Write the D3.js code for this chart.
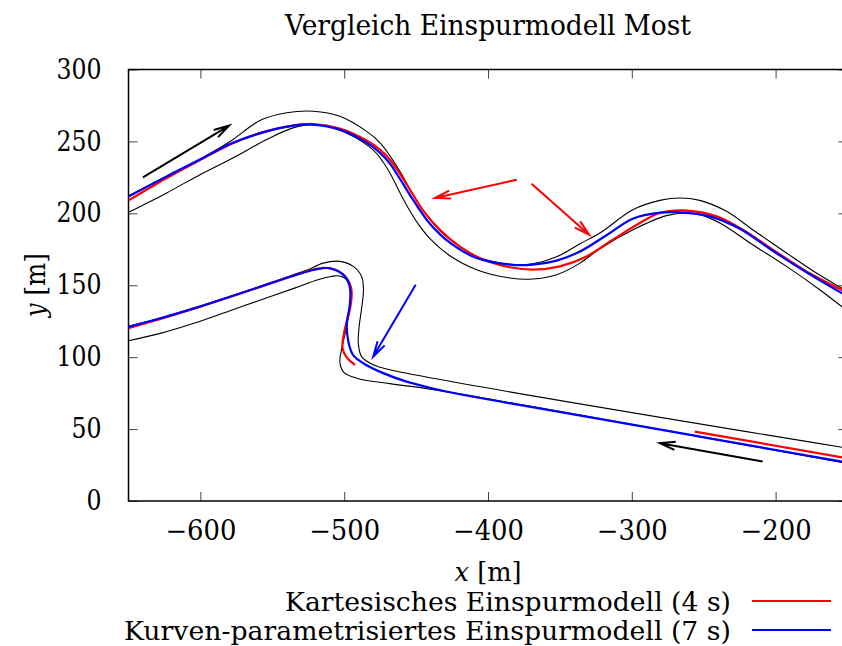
<!DOCTYPE html>
<html><head><meta charset="utf-8">
<script src="https://cdn.jsdelivr.net/npm/d3@7"></script>
<style>
body{margin:0;background:#fff}
svg{display:block}
text{font-family:"DejaVu Serif","Liberation Serif","Noto Serif","FreeSerif",serif;fill:#000}
</style>
</head><body><svg id="c" width="842" height="646"></svg>
<script>
// ---------- data ----------
const title = "Vergleich Einspurmodell Most";
const xDomain = [-650, -150];
const yDomain = [0, 300];
const xTicks = [-600, -500, -400, -300, -200];
const yTicks = [0, 50, 100, 150, 200, 250, 300];
const xLabelVar = "x", yLabelVar = "y", unitLabel = " [m]";
const seriesNames = ["Kartesisches Einspurmodell (4 s)", "Kurven-parametrisiertes Einspurmodell (7 s)"];

// track boundaries (black)
const boundUpperOuter = [[-650,212.3],[-623.4,225.9],[-600.3,237.7],[-579.4,249.9],[-558.6,264.5],[-540,269.9],[-521.5,271],[-503,267.5],[-484.4,257],[-475.2,249.2],[-466.8,237.9],[-459.9,226.9],[-452.9,214.3],[-443.9,200.5],[-433.5,187.9],[-419.5,176.8],[-405.6,169.1],[-384.7,164.6],[-368.8,165],[-352.3,169.8],[-336,178.9],[-322.2,186.3],[-299.3,202.5],[-280.5,209],[-266.6,210.7],[-252.7,209],[-234.1,201.4],[-215.9,188.6],[-192.4,172.4],[-171.6,158.5],[-150,145.6]];
const boundUpperInner = [[-650,200.7],[-623.4,214.2],[-600.3,226.9],[-577.4,238.5],[-553.9,251.3],[-535.6,259.4],[-521.7,261.7],[-507.8,259.4],[-493.9,253.6],[-480.1,244.3],[-473.1,235.9],[-466.8,225.5],[-461.3,214.4],[-455.7,204],[-448.7,192.8],[-440.4,182.4],[-426.5,170.5],[-407.9,160.8],[-384.7,155],[-368.8,154.3],[-352.3,157.3],[-336,165.4],[-322.2,175.4],[-299.1,188.6],[-275.9,198.4],[-261.9,200.2],[-252.7,199.1],[-238.8,193.3],[-215.9,178.2],[-192.4,163.1],[-169.3,146.9],[-150,132]];
const boundLowerOuter = [[-650,121.5],[-627.2,127.4],[-604,134.3],[-580.8,141.8],[-557.7,149.4],[-534.5,157.7],[-525.2,160.8],[-514.6,165.4],[-503,166.6],[-493.7,163.1],[-487.9,156.1],[-486.6,146.9],[-487.7,135.2],[-489.6,121.3],[-490.2,109.8],[-487.9,100.4],[-479.8,94.7],[-468.2,91.2],[-150,36.7]];
const boundLowerInner = [[-650,111.4],[-627.2,116.7],[-604,123.7],[-580.8,131.8],[-557.7,139.9],[-534.5,148],[-518.3,153.8],[-509,156.1],[-504.4,156.6],[-498.8,154.2],[-495.7,146.2],[-496.7,131.6],[-499.1,117.6],[-501.9,105.1],[-503,96.4],[-500.2,89.4],[-491.4,85.4],[-468.2,81.6],[-439,77.6],[-150,26.1]];

// Kartesisches Einspurmodell (red), several pieces
const redUpper = [[-650,209],[-623.4,224.6],[-600.3,237],[-577.4,248.8],[-553.9,257.2],[-535.6,261],[-521.7,262.1],[-503,258.9],[-484.4,250.6],[-475.2,244.3],[-468.2,237.3],[-461.3,227.6],[-454.3,216.5],[-445.1,201.9],[-433.5,188.6],[-419.5,176.8],[-405.6,168.8],[-384.7,162.5],[-368.8,160.8],[-350,163.1],[-331.5,170],[-313.2,181.7],[-294.4,193.3],[-280.5,200.2],[-261.9,201.9],[-241.1,197.9],[-222.8,188.6],[-202,174.7],[-178.5,159.6],[-150,144.8]];
const redHairpin = [[-492.5,94.7],[-498.3,99.9],[-501.2,106.5],[-500,117.3],[-496.4,131.6],[-495,139.9],[-495.3,148.6],[-500.9,157.7],[-511.3,162],[-520.6,161.1],[-534.5,157],[-557.7,149.2],[-580.8,141.5],[-604,133.8],[-627.2,126.7],[-650,120.2]];
const redBottom = [[-256.2,48.2],[-150,29.7]];

// Kurven-parametrisiertes Einspurmodell (blue)
const blueUpper = [[-650,211.6],[-623.4,225.7],[-600.3,237.4],[-577.4,249],[-553.9,257],[-535.6,261],[-521.7,261.7],[-503,258.2],[-484.4,249.2],[-475.2,242.2],[-468.2,234.6],[-461.3,224.1],[-452.2,209.5],[-440.4,192.8],[-426.5,179.6],[-407.9,168.9],[-384.7,164.3],[-368.8,164.3],[-352.3,167.1],[-336,173.5],[-317.6,184.8],[-299.3,196.3],[-280.5,200.5],[-266.6,200.7],[-245.8,197.9],[-224.9,189.3],[-202,174],[-178.5,159],[-150,142.2]];
const blueLower = [[-150,26.7],[-252.7,44.8],[-345.4,61.1],[-419.6,74.2],[-439,78.4],[-456.6,83],[-472.9,88.9],[-486.8,95.8],[-493.9,101.6],[-497.1,110.7],[-498.2,123.2],[-496.2,135.7],[-496,148.3],[-499.5,156.1],[-509.9,161.8],[-520.6,160.8],[-534.5,156.8],[-557.7,149.2],[-580.8,141.5],[-604,134.1],[-627.2,127.2],[-650,121.1]];

// annotation arrows (data coordinates) and which series they belong to
const arrowFrom = [[-640,225],[-209,27.5],[-380,223.4],[-369.7,220.6],[-450.3,150.3]];
const arrowTo   = [[-580,261],[-280.5,40.2],[-436.9,210.7],[-329.7,185.1],[-479.8,100.4]];
const arrowSeries = ["track","track","kart","kart","kurv"];

// ---------- drawing ----------
const M = {left:128.5, right:847.5, top:69.5, bottom:501};
const col = {track:"#000", kart:"#ff0000", kurv:"#0000ff"};
const svg = d3.select("#c");
const x = d3.scaleLinear().domain(xDomain).range([M.left, M.right]);
const y = d3.scaleLinear().domain(yDomain).range([M.bottom, M.top]);
const fmt = d3.format("d");
const FF = '"DejaVu Serif","Liberation Serif","Noto Serif",serif';
const numWidth = s => 15 * s.replace("\u2212","").length + (s.includes("\u2212") ? 26 : 0);

svg.append("defs").append("clipPath").attr("id","clip")
  .append("rect").attr("x",M.left).attr("y",M.top)
  .attr("width",M.right-M.left).attr("height",M.bottom-M.top);

const tl = 9;
const gx = svg.append("g").attr("transform",`translate(0,${M.bottom})`)
  .call(d3.axisBottom(x).tickValues(xTicks).tickSize(-tl).tickPadding(18).tickFormat(fmt));
const gxt = svg.append("g").attr("transform",`translate(0,${M.top})`)
  .call(d3.axisTop(x).tickValues(xTicks).tickSize(-tl).tickFormat(""));
const gy = svg.append("g").attr("transform",`translate(${M.left},0)`)
  .call(d3.axisLeft(y).tickValues(yTicks).tickSize(-tl).tickPadding(27).tickFormat(fmt));
const gyr = svg.append("g").attr("transform",`translate(${M.right},0)`)
  .call(d3.axisRight(y).tickValues(yTicks).tickSize(-tl).tickFormat(""));
[gx,gxt,gy,gyr].forEach(g=>{
  g.select(".domain").remove();
  g.selectAll(".tick line").attr("stroke","#444").attr("stroke-width",1);
  g.selectAll("text").attr("font-size",27).attr("font-family",FF).attr("fill","#000")
    .attr("textLength",function(){return numWidth(this.textContent);})
    .attr("lengthAdjust","spacingAndGlyphs");
});
gx.selectAll("text").attr("dy","0.78em");

svg.append("rect").attr("x",M.left).attr("y",M.top)
  .attr("width",M.right-M.left).attr("height",M.bottom-M.top)
  .attr("fill","none").attr("stroke","#000").attr("stroke-width",1.5);

const plot = svg.append("g").attr("clip-path","url(#clip)");
const line = d3.line().x(d=>x(d[0])).y(d=>y(d[1])).curve(d3.curveCatmullRom.alpha(0.5));

[boundUpperOuter,boundUpperInner,boundLowerOuter,boundLowerInner].forEach(d=>{
  plot.append("path").attr("d",line(d)).attr("fill","none").attr("stroke","#000").attr("stroke-width",1.1);
});
[redUpper,redHairpin,redBottom].forEach(d=>{
  plot.append("path").attr("d",line(d)).attr("fill","none").attr("stroke",col.kart).attr("stroke-width",2.2);
});
[blueUpper,blueLower].forEach(d=>{
  plot.append("path").attr("d",line(d)).attr("fill","none").attr("stroke",col.kurv).attr("stroke-width",2.2);
});

arrowFrom.forEach((f,i)=>{
  const t = arrowTo[i];
  const x1=x(f[0]), y1=y(f[1]), x2=x(t[0]), y2=y(t[1]);
  const a = Math.atan2(y2-y1, x2-x1), L=16, h=15*Math.PI/180;
  const w1=[x2-L*Math.cos(a-h), y2-L*Math.sin(a-h)];
  const w2=[x2-L*Math.cos(a+h), y2-L*Math.sin(a+h)];
  plot.append("path")
    .attr("d",`M${x1},${y1}L${x2},${y2}M${w1[0]},${w1[1]}L${x2},${y2}L${w2[0]},${w2[1]}`)
    .attr("fill","none").attr("stroke",col[arrowSeries[i]]).attr("stroke-width",2);
});

const cx = (M.left+M.right)/2;
svg.append("text").attr("x",cx).attr("y",35).attr("text-anchor","middle")
  .attr("font-size",28).attr("textLength",406).attr("lengthAdjust","spacingAndGlyphs").text(title);

const xl = svg.append("text").attr("x",cx).attr("y",581).attr("text-anchor","middle")
  .attr("font-size",26).attr("textLength",67).attr("lengthAdjust","spacingAndGlyphs");
xl.append("tspan").attr("font-style","italic").text(xLabelVar);
xl.append("tspan").text(unitLabel);
const yl = svg.append("text").attr("transform",`translate(45,${(M.top+M.bottom)/2}) rotate(-90)`)
  .attr("text-anchor","middle").attr("font-size",28).attr("textLength",64).attr("lengthAdjust","spacingAndGlyphs");
yl.append("tspan").attr("font-style","italic").text(yLabelVar);
yl.append("tspan").text(unitLabel);

const legY = [601, 630], legW = [446, 607], legC = [col.kart, col.kurv];
seriesNames.forEach((s,i)=>{
  svg.append("text").attr("x",731).attr("y",legY[i]+10).attr("text-anchor","end")
    .attr("font-size",26).attr("textLength",legW[i]).attr("lengthAdjust","spacingAndGlyphs").text(s);
  svg.append("line").attr("x1",752).attr("x2",831).attr("y1",legY[i]).attr("y2",legY[i])
    .attr("stroke",legC[i]).attr("stroke-width",2);
});
</script></body></html>
